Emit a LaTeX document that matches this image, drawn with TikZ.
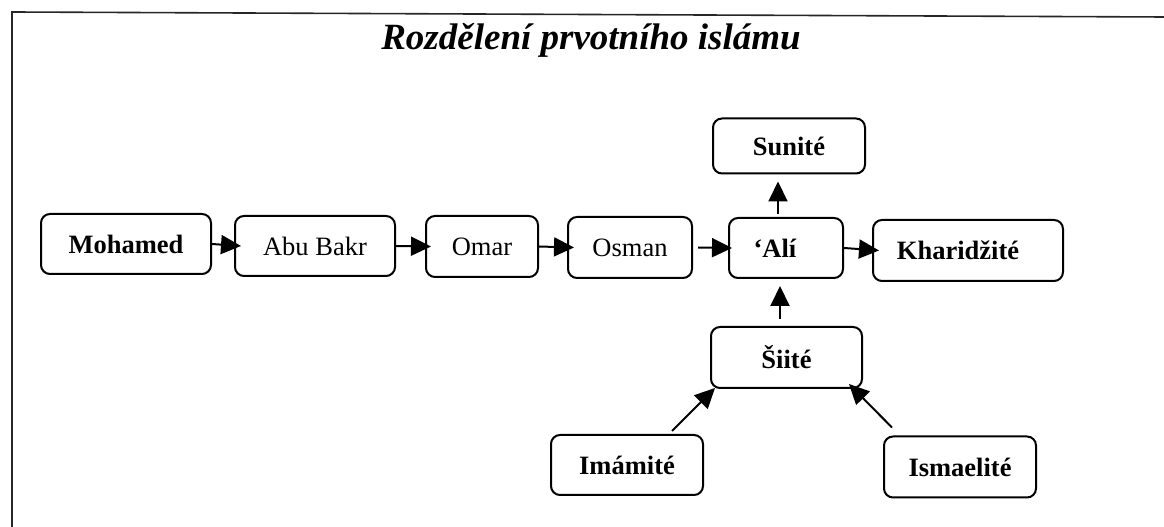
\documentclass[tikz,border=0pt]{standalone}
\usepackage{fontspec}
\setmainfont{Liberation Serif}
\usetikzlibrary{arrows.meta}

\begin{document}
\begin{tikzpicture}[x=1pt, y=1pt,
  box/.style={draw, line width=2pt, rounded corners=9pt, inner sep=0pt,
    font=\fontsize{26.5}{30}\selectfont},
  bbox/.style={box, font=\fontsize{26.5}{30}\selectfont\bfseries},
  arr/.style={line width=2pt, -{Triangle[length=20pt,width=19pt]}}]
  \useasboundingbox (0,0) rectangle (1164,527);

  % Frame (top and left only)
  \draw[line width=1.6pt, black!85] (12,0) -- (12,515) -- (1164,510);

  % Title
  \node[anchor=base, font=\fontsize{37}{42}\selectfont\bfseries\itshape] (title)
    at (591,477) {Rozdělení prvotního islámu};

  % Main row
  \node[bbox, minimum width=170, minimum height=60] (moh) at (126,283) {Mohamed};
  \node[box, minimum width=160, minimum height=60] (abu) at (315,281) {Abu Bakr};
  \node[box, minimum width=112, minimum height=61] (omar) at (482,280.5) {Omar};
  \node[box, minimum width=124, minimum height=61] (osman) at (630,279.5) {Osman};
  \node[bbox, minimum width=114, minimum height=60] (ali) at (786,279) {`Alí\hspace*{22pt}};
  \node[bbox, minimum width=190, minimum height=61] (khar) at (968,276.5) {Kharidžité\hspace*{20pt}};

  % Branches of 'Ali
  \node[bbox, minimum width=152, minimum height=55] (sun) at (789,381) {Sunité};
  \node[bbox, minimum width=151, minimum height=61] (shi) at (786.5,169.5) {Šiité};
  \node[bbox, minimum width=152, minimum height=60] (ima) at (627,62) {Imámité};
  \node[bbox, minimum width=152, minimum height=61] (isma) at (960,60) {Ismaelité};

  % Arrows along the row
  \draw[arr] (moh.east) -- ([xshift=7pt]abu.west);
  \draw[arr] (abu.east) -- ([xshift=6pt]omar.west);
  \draw[arr] (omar.east) -- ([xshift=7pt]osman.west);
  \draw[arr] ([xshift=5pt]osman.east) -- ([xshift=4pt]ali.west);
  \draw[arr] (ali.east) -- ([xshift=7pt]khar.west);

  % Vertical arrows
  \draw[arr] ([xshift=-8pt,yshift=3pt]ali.north) -- ([xshift=-11pt,yshift=-7pt]sun.south);
  \draw[arr] ([xshift=-6.5pt,yshift=7pt]shi.north) -- ([xshift=-6pt,yshift=-7pt]ali.south);

  % Diagonal arrows into Siite
  \draw[arr] ([xshift=-32pt,yshift=3pt]ima.north east) -- ([xshift=5pt,yshift=1pt]shi.south west);
  \draw[arr] ([xshift=9pt,yshift=8pt]isma.north west) -- ([xshift=-14pt,yshift=5pt]shi.south east);
\end{tikzpicture}
\end{document}
